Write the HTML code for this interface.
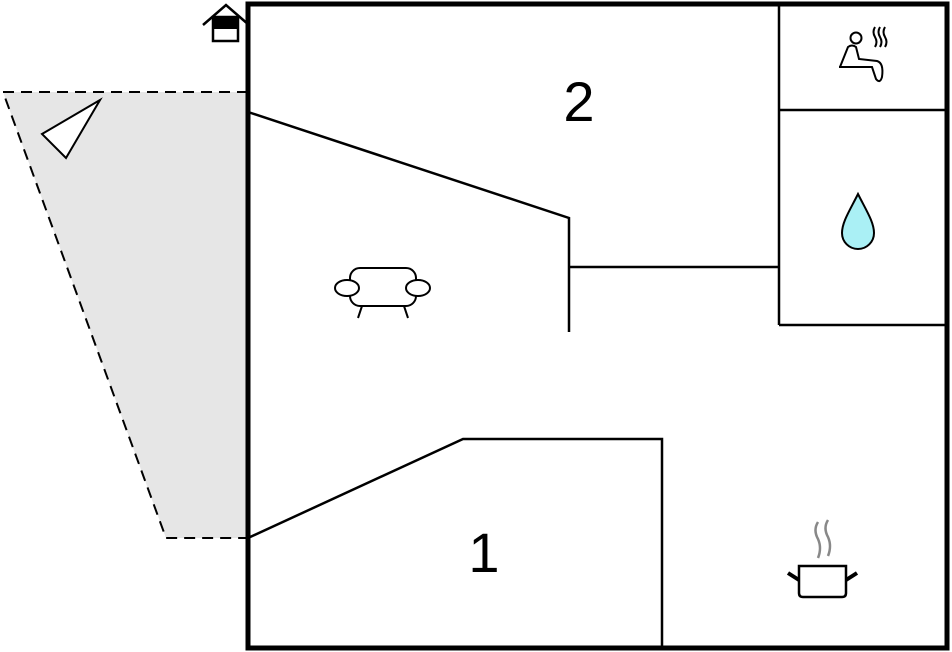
<!DOCTYPE html>
<html><head><style>body{margin:0;background:#fff}svg{display:block}</style></head><body>
<svg width="952" height="652" viewBox="0 0 952 652" xmlns="http://www.w3.org/2000/svg">
<polygon points="3,92 248,92 248,538 166,538" fill="#e6e6e6"/>
<polyline points="248,92 3,92 166,538 248,538" fill="none" stroke="#000" stroke-width="2" stroke-dasharray="11,7"/>
<polygon points="100,100 42,134 66,158" fill="#fff" stroke="#000" stroke-width="2"/>
<g fill="none" stroke="#000" stroke-width="2.5">
<polyline points="248,112 569,218 569,332"/>
<line x1="569" y1="267" x2="779" y2="267"/>
<line x1="779" y1="4" x2="779" y2="325"/>
<line x1="779" y1="110" x2="948" y2="110"/>
<line x1="779" y1="325" x2="948" y2="325"/>
<polyline points="248,538 463,439 662,439 662,648"/>
</g>
<rect x="248" y="4" width="699" height="644" fill="none" stroke="#000" stroke-width="5"/>
<polyline points="203,25 226,5 249,25" fill="none" stroke="#000" stroke-width="2.5"/>
<rect x="213" y="17" width="25" height="24" fill="#fff" stroke="#000" stroke-width="2.5"/>
<rect x="213" y="17" width="25" height="12" fill="#000"/>
<text x="579" y="121" font-family="Liberation Sans, sans-serif" font-size="56" text-anchor="middle">2</text>
<text x="484" y="572" font-family="Liberation Sans, sans-serif" font-size="56" text-anchor="middle">1</text>
<g fill="#fff" stroke="#000" stroke-width="2">
<line x1="362" y1="306" x2="358" y2="318"/><line x1="404" y1="306" x2="408" y2="318"/>
<rect x="350" y="268" width="66" height="38" rx="10"/>
<ellipse cx="347" cy="288" rx="12" ry="8"/><ellipse cx="418" cy="288" rx="12" ry="8"/>
</g>
<path d="M858,194 C850,210 842,222 842,233 A16,16 0 0 0 874,233 C874,222 866,210 858,194Z" fill="#aaf0f5" stroke="#000" stroke-width="2"/>
<g fill="none" stroke="#000" stroke-width="2">
<circle cx="856" cy="38" r="5.5"/>
<path d="M840,67 L848,47 Q852,44 856,47 L859,59 L877,61 Q884,63 882,77 Q880,84 876,79 L872,67 L856,67"/>
<line x1="839" y1="67" x2="858" y2="67"/>
<path d="M875,27 q-3,5 0,10 q3,5 0,10 M880,27 q-3,5 0,10 q3,5 0,10 M885,27 q-3,5 0,10 q3,5 0,10"/>
</g>
<g fill="none">
<path d="M818,522 q-5,8 0,17 q4,9 0,19 M828,520 q-5,8 0,17 q4,9 0,19" stroke="#888" stroke-width="2.5"/>
<path d="M799,566 L846,566 L846,593 Q846,597 842,597 L803,597 Q799,597 799,593Z" stroke="#000" stroke-width="2.5" fill="#fff"/>
<line x1="788" y1="573" x2="799" y2="580" stroke="#000" stroke-width="4"/>
<line x1="857" y1="573" x2="846" y2="580" stroke="#000" stroke-width="4"/>
</g>
</svg>
</body></html>
